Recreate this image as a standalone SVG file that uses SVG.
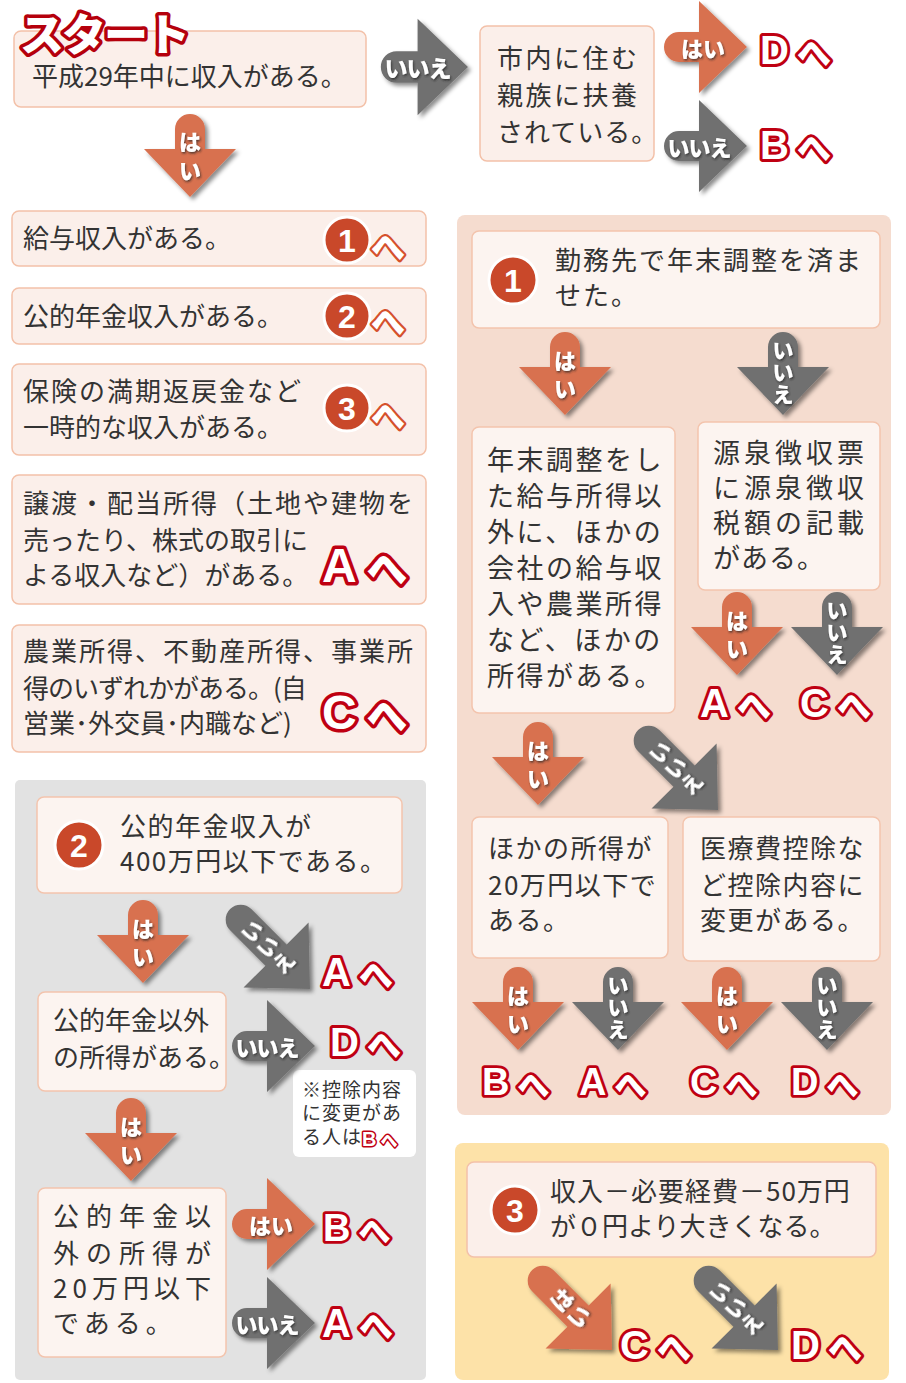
<svg xmlns="http://www.w3.org/2000/svg" width="906" height="1383" viewBox="0 0 906 1383">
<defs>
<style>
.bx{fill:#fbefea;stroke:#f3c1a9;stroke-width:1.5}
.bi{fill:#fcf4f0;stroke:#f3c4ad;stroke-width:1.5}
.t{font-family:"Noto Sans CJK JP","Noto Sans CJK SC",sans-serif;font-size:26px;fill:#333}
.t27{font-size:27px}
.tn{font-size:19px}
.or{fill:#d8714f}
.gr{fill:#707070}
.al{font-family:"Noto Sans CJK JP","Noto Sans CJK SC",sans-serif;font-weight:900;font-size:22px;fill:#fff;text-anchor:middle;dominant-baseline:central}
.as{font-size:21px}
.lb{font-family:"Liberation Sans",Arial,sans-serif;font-weight:700;font-size:40px;fill:#fff;stroke:#bf0012;stroke-width:6;paint-order:stroke;stroke-linejoin:round}
.lh{font-family:"Noto Sans CJK JP","Noto Sans CJK SC",sans-serif;font-weight:900;font-size:34px}
.nc{fill:#c9482a;stroke:#fff;stroke-width:3}
.nt{font-family:"Liberation Sans",Arial,sans-serif;font-weight:700;font-size:32px;fill:#fff;text-anchor:middle;dominant-baseline:central}
.oh{font-family:"Noto Sans CJK JP","Noto Sans CJK SC",sans-serif;font-weight:900;font-size:34px;fill:#fff;stroke:#d5502c;stroke-width:4.5;paint-order:stroke;stroke-linejoin:round}
</style>
<filter id="sh" x="-20%" y="-20%" width="150%" height="150%"><feDropShadow dx="3" dy="3" stdDeviation="2" flood-color="#000" flood-opacity="0.45"/></filter>
<filter id="tsh" x="-30%" y="-40%" width="160%" height="180%"><feDropShadow dx="1" dy="1.5" stdDeviation="1" flood-color="#222" flood-opacity="0.75"/></filter>
<path id="aS" d="M0,0 L-46,-48 L-15,-48 L-15,-68 A15,15 0 0 1 15,-68 L15,-48 L46,-48 Z"/>
<path id="aL" d="M0,0 L-46,-48 L-15,-48 L-15,-98 A15,15 0 0 1 15,-98 L15,-48 L46,-48 Z"/>
</defs>
<rect width="906" height="1383" fill="#fff"/>

<g id="sections">
<rect id="sec1" x="457" y="215" width="434" height="900" rx="8" fill="#f5dccf"/>
<rect id="sec2" x="15" y="780" width="411" height="600" rx="5" fill="#e2e2e2"/>
<rect id="sec3" x="455" y="1143" width="434" height="237" rx="8" fill="#fde2a8"/>
</g>

<g id="start">
<rect class="bx" x="14" y="31" width="352" height="76" rx="7"/>
<text class="t" x="32" y="86">平成29年中に収入がある。</text>
<text x="20" y="51" font-family="Noto Sans CJK JP, sans-serif" font-weight="900" font-size="44" letter-spacing="-2" fill="#fff" stroke="#b5000c" stroke-width="7" paint-order="stroke" stroke-linejoin="round">スタート</text>
</g>

<g id="q-fuyou">
<rect class="bx" x="480" y="26" width="174" height="135" rx="7"/>
<text class="t" letter-spacing="2.5"><tspan x="497" y="68">市内に住む</tspan><tspan x="497" y="105">親族に扶養</tspan><tspan x="497" y="142" letter-spacing="1">されている。</tspan></text>
</g>

<g id="q-kyuyo">
<rect class="bx" x="12" y="211" width="414" height="55" rx="7"/>
<text class="t" x="23" y="248">給与収入がある。</text>
<circle class="nc" cx="347" cy="240" r="23"/><text class="nt" x="347" y="241">1</text>
<text class="oh" x="371" y="260">へ</text>
</g>

<g id="q-nenkin">
<rect class="bx" x="12" y="288" width="414" height="56" rx="7"/>
<text class="t" x="23" y="326">公的年金収入がある。</text>
<circle class="nc" cx="347" cy="316" r="23"/><text class="nt" x="347" y="317">2</text>
<text class="oh" x="371" y="335">へ</text>
</g>

<g id="q-ichiji">
<rect class="bx" x="12" y="364" width="414" height="91" rx="7"/>
<text class="t"><tspan x="23" y="401" letter-spacing="2">保険の満期返戻金など</tspan><tspan x="23" y="437">一時的な収入がある。</tspan></text>
<circle class="nc" cx="347" cy="408" r="23"/><text class="nt" x="347" y="409">3</text>
<text class="oh" x="371" y="429">へ</text>
</g>

<g id="q-joto">
<rect class="bx" x="12" y="475" width="414" height="129" rx="7"/>
<text class="t"><tspan x="23" y="513" letter-spacing="2">譲渡・配当所得（土地や建物を</tspan><tspan x="23" y="550">売ったり、株式の取引に</tspan><tspan x="23" y="585">よる収入など）がある。</tspan></text>
</g>

<g id="q-nogyo">
<rect class="bx" x="12" y="625" width="414" height="127" rx="7"/>
<text class="t"><tspan x="23" y="661" letter-spacing="2">農業所得、不動産所得、事業所</tspan><tspan x="23" y="698" letter-spacing="-1">得のいずれかがある。(自</tspan><tspan x="23" y="733">営業･外交員･内職など)</tspan></text>
</g>

<g id="s1-q">
<rect class="bi" x="472" y="231" width="408" height="97" rx="7"/>
<circle class="nc" cx="513" cy="280" r="24"/><text class="nt" x="513" y="281">1</text>
<text class="t" letter-spacing="2"><tspan x="555" y="270">勤務先で年末調整を済ま</tspan><tspan x="555" y="305">せた。</tspan></text>
</g>

<g id="s1-other">
<rect class="bi" x="472" y="427" width="203" height="286" rx="7"/>
<text class="t t27" letter-spacing="2.5"><tspan x="487" y="470">年末調整をし</tspan><tspan x="487" y="506">た給与所得以</tspan><tspan x="487" y="542">外に、ほかの</tspan><tspan x="487" y="578">会社の給与収</tspan><tspan x="487" y="614">入や農業所得</tspan><tspan x="487" y="650">など、ほかの</tspan><tspan x="487" y="686">所得がある。</tspan></text>
</g>

<g id="s1-gensen">
<rect class="bi" x="698" y="422" width="182" height="168" rx="7"/>
<text class="t t27" letter-spacing="4"><tspan x="713" y="463">源泉徴収票</tspan><tspan x="713" y="498">に源泉徴収</tspan><tspan x="713" y="533">税額の記載</tspan><tspan x="713" y="568" letter-spacing="1">がある。</tspan></text>
</g>

<g id="s1-20man">
<rect class="bi" x="472" y="817" width="196" height="141" rx="7"/>
<text class="t" letter-spacing="1.5"><tspan x="488" y="858">ほかの所得が</tspan><tspan x="488" y="895">20万円以下で</tspan><tspan x="488" y="930">ある。</tspan></text>
</g>

<g id="s1-iryo">
<rect class="bi" x="683" y="817" width="197" height="144" rx="7"/>
<text class="t" letter-spacing="1.5"><tspan x="700" y="858">医療費控除な</tspan><tspan x="700" y="895">ど控除内容に</tspan><tspan x="700" y="930">変更がある。</tspan></text>
</g>

<g id="s2-q">
<rect class="bi" x="37" y="797" width="365" height="96" rx="7"/>
<circle class="nc" cx="79" cy="845" r="24"/><text class="nt" x="79" y="846">2</text>
<text class="t" letter-spacing="1.5"><tspan x="120" y="836">公的年金収入が</tspan><tspan x="120" y="871">400万円以下である。</tspan></text>
</g>

<g id="s2-other">
<rect class="bi" x="38" y="992" width="188" height="99" rx="7"/>
<text class="t"><tspan x="53" y="1030">公的年金以外</tspan><tspan x="53" y="1067">の所得がある。</tspan></text>
</g>

<g id="s2-note">
<rect x="293" y="1070" width="123" height="87" rx="6" fill="#fff"/>
<text class="t tn" letter-spacing="1"><tspan x="302" y="1097">※控除内容</tspan><tspan x="302" y="1120">に変更があ</tspan><tspan x="302" y="1144">る人は</tspan></text>
<g transform="translate(362,1146) scale(0.5)"><text class="lb" x="0" y="0">B</text><text class="lb lh" x="37" y="2">へ</text></g>
</g>

<g id="s2-20man">
<rect class="bi" x="38" y="1188" width="188" height="169" rx="7"/>
<text class="t"><tspan x="53" y="1226" textLength="158" lengthAdjust="spacing">公的年金以</tspan><tspan x="53" y="1263" textLength="158" lengthAdjust="spacing">外の所得が</tspan><tspan x="53" y="1298" textLength="158" lengthAdjust="spacing">20万円以下</tspan><tspan x="53" y="1333" letter-spacing="5">である。</tspan></text>
</g>

<g id="s3-q">
<rect class="bx" x="467" y="1162" width="409" height="95" rx="7"/>
<circle class="nc" cx="515" cy="1210" r="24"/><text class="nt" x="515" y="1211">3</text>
<text class="t"><tspan x="550" y="1201" letter-spacing="1">収入－必要経費－50万円</tspan><tspan x="550" y="1236">が０円より大きくなる。</tspan></text>
</g>

<g id="connectors">
<g filter="url(#sh)"><g transform="translate(190,197)"><use href="#aS" class="or"/><text class="al" filter="url(#tsh)"><tspan x="0" y="-57">は</tspan><tspan x="0" y="-28">い</tspan></text></g></g>
<g filter="url(#sh)"><g transform="translate(565,415)"><use href="#aS" class="or"/><text class="al" filter="url(#tsh)"><tspan x="0" y="-56">は</tspan><tspan x="0" y="-28">い</tspan></text></g></g>
<g filter="url(#sh)"><g transform="translate(737,675)"><use href="#aS" class="or"/><text class="al" filter="url(#tsh)"><tspan x="0" y="-56">は</tspan><tspan x="0" y="-28">い</tspan></text></g></g>
<g filter="url(#sh)"><g transform="translate(538,805)"><use href="#aS" class="or"/><text class="al" filter="url(#tsh)"><tspan x="0" y="-56">は</tspan><tspan x="0" y="-28">い</tspan></text></g></g>
<g filter="url(#sh)"><g transform="translate(518,1050)"><use href="#aS" class="or"/><text class="al" filter="url(#tsh)"><tspan x="0" y="-56">は</tspan><tspan x="0" y="-28">い</tspan></text></g></g>
<g filter="url(#sh)"><g transform="translate(727,1050)"><use href="#aS" class="or"/><text class="al" filter="url(#tsh)"><tspan x="0" y="-56">は</tspan><tspan x="0" y="-28">い</tspan></text></g></g>
<g filter="url(#sh)"><g transform="translate(143,983)"><use href="#aS" class="or"/><text class="al" filter="url(#tsh)"><tspan x="0" y="-56">は</tspan><tspan x="0" y="-28">い</tspan></text></g></g>
<g filter="url(#sh)"><g transform="translate(131,1181)"><use href="#aS" class="or"/><text class="al" filter="url(#tsh)"><tspan x="0" y="-56">は</tspan><tspan x="0" y="-28">い</tspan></text></g></g>
<g filter="url(#sh)"><g transform="translate(783,415)"><use href="#aS" class="gr"/><text class="al as" filter="url(#tsh)"><tspan x="0" y="-66">い</tspan><tspan x="0" y="-44">い</tspan><tspan x="0" y="-22">え</tspan></text></g></g>
<g filter="url(#sh)"><g transform="translate(837,675)"><use href="#aS" class="gr"/><text class="al as" filter="url(#tsh)"><tspan x="0" y="-66">い</tspan><tspan x="0" y="-44">い</tspan><tspan x="0" y="-22">え</tspan></text></g></g>
<g filter="url(#sh)"><g transform="translate(618,1050)"><use href="#aS" class="gr"/><text class="al as" filter="url(#tsh)"><tspan x="0" y="-66">い</tspan><tspan x="0" y="-44">い</tspan><tspan x="0" y="-22">え</tspan></text></g></g>
<g filter="url(#sh)"><g transform="translate(827,1050)"><use href="#aS" class="gr"/><text class="al as" filter="url(#tsh)"><tspan x="0" y="-66">い</tspan><tspan x="0" y="-44">い</tspan><tspan x="0" y="-22">え</tspan></text></g></g>
<g filter="url(#sh)"><g transform="translate(468,67) rotate(-90) scale(1.05)"><use href="#aS" class="gr"/><text class="al" filter="url(#tsh)" letter-spacing="-1" transform="translate(0,-48) rotate(90)">いいえ</text></g></g>
<g filter="url(#sh)"><g transform="translate(747,47) rotate(-90)"><use href="#aS" class="or"/><text class="al" filter="url(#tsh)" transform="translate(0,-44) rotate(90)">はい</text></g></g>
<g filter="url(#sh)"><g transform="translate(747,146) rotate(-90)"><use href="#aS" class="gr"/><text class="al" filter="url(#tsh)" letter-spacing="-1" transform="translate(0,-48) rotate(90)">いいえ</text></g></g>
<g filter="url(#sh)"><g transform="translate(315,1046) rotate(-90)"><use href="#aS" class="gr"/><text class="al" filter="url(#tsh)" letter-spacing="-1" transform="translate(0,-48) rotate(90)">いいえ</text></g></g>
<g filter="url(#sh)"><g transform="translate(315,1224) rotate(-90)"><use href="#aS" class="or"/><text class="al" filter="url(#tsh)" transform="translate(0,-44) rotate(90)">はい</text></g></g>
<g filter="url(#sh)"><g transform="translate(315,1323) rotate(-90)"><use href="#aS" class="gr"/><text class="al" filter="url(#tsh)" letter-spacing="-1" transform="translate(0,-48) rotate(90)">いいえ</text></g></g>
<g filter="url(#sh)"><g transform="translate(718,810) rotate(-45)"><use href="#aL" class="gr"/><text class="al as" filter="url(#tsh)"><tspan x="0" y="-83">い</tspan><tspan x="0" y="-61">い</tspan><tspan x="0" y="-39">え</tspan></text></g></g>
<g filter="url(#sh)"><g transform="translate(310,989) rotate(-45)"><use href="#aL" class="gr"/><text class="al as" filter="url(#tsh)"><tspan x="0" y="-83">い</tspan><tspan x="0" y="-61">い</tspan><tspan x="0" y="-39">え</tspan></text></g></g>
<g filter="url(#sh)"><g transform="translate(612,1350) rotate(-45)"><use href="#aL" class="or"/><text class="al" filter="url(#tsh)"><tspan x="0" y="-73">は</tspan><tspan x="0" y="-49">い</tspan></text></g></g>
<g filter="url(#sh)"><g transform="translate(778,1350) rotate(-45)"><use href="#aL" class="gr"/><text class="al as" filter="url(#tsh)"><tspan x="0" y="-83">い</tspan><tspan x="0" y="-61">い</tspan><tspan x="0" y="-39">え</tspan></text></g></g>
</g>

<g id="targets">
<g id="t-top-d" transform="translate(760,64)"><text class="lb" x="0" y="0">D</text><text class="lb lh" x="37" y="2">へ</text></g>
<g id="t-top-b" transform="translate(760,159)"><text class="lb" x="0" y="0">B</text><text class="lb lh" x="37" y="2">へ</text></g>
<g id="t-joto-a" transform="translate(322,582) scale(1.2)"><text class="lb" x="0" y="0">A</text><text class="lb lh" x="37" y="2">へ</text></g>
<g id="t-nogyo-c" transform="translate(322,729) scale(1.2)"><text class="lb" x="0" y="0">C</text><text class="lb lh" x="37" y="2">へ</text></g>
<g id="t-s1-a" transform="translate(700,717)"><text class="lb" x="0" y="0">A</text><text class="lb lh" x="37" y="2">へ</text></g>
<g id="t-s1-c" transform="translate(800,717)"><text class="lb" x="0" y="0">C</text><text class="lb lh" x="37" y="2">へ</text></g>
<g id="t-s1-b2" transform="translate(482,1095) scale(0.95)"><text class="lb" x="0" y="0">B</text><text class="lb lh" x="37" y="2">へ</text></g>
<g id="t-s1-a2" transform="translate(579,1095) scale(0.95)"><text class="lb" x="0" y="0">A</text><text class="lb lh" x="37" y="2">へ</text></g>
<g id="t-s1-c2" transform="translate(690,1095) scale(0.95)"><text class="lb" x="0" y="0">C</text><text class="lb lh" x="37" y="2">へ</text></g>
<g id="t-s1-d2" transform="translate(791,1095) scale(0.95)"><text class="lb" x="0" y="0">D</text><text class="lb lh" x="37" y="2">へ</text></g>
<g id="t-s2-a" transform="translate(322,986)"><text class="lb" x="0" y="0">A</text><text class="lb lh" x="37" y="2">へ</text></g>
<g id="t-s2-d" transform="translate(330,1056)"><text class="lb" x="0" y="0">D</text><text class="lb lh" x="37" y="2">へ</text></g>
<g id="t-s2-b" transform="translate(323,1241) scale(0.95)"><text class="lb" x="0" y="0">B</text><text class="lb lh" x="37" y="2">へ</text></g>
<g id="t-s2-a2" transform="translate(322,1337)"><text class="lb" x="0" y="0">A</text><text class="lb lh" x="37" y="2">へ</text></g>
<g id="t-s3-c" transform="translate(620,1359)"><text class="lb" x="0" y="0">C</text><text class="lb lh" x="37" y="2">へ</text></g>
<g id="t-s3-d" transform="translate(791,1359)"><text class="lb" x="0" y="0">D</text><text class="lb lh" x="37" y="2">へ</text></g>
</g>
</svg>
